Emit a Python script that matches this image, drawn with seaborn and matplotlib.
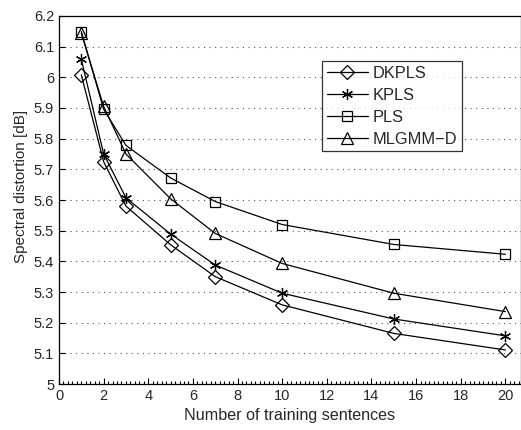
import numpy as np
import pandas as pd
import matplotlib
matplotlib.use("Agg")
from matplotlib import pyplot as plt
from matplotlib.ticker import MultipleLocator
import seaborn as sb

"""DATA"""

sentences = [1, 2, 3, 5, 7, 10, 15, 20]
dkpls = [6.008, 5.725, 5.58, 5.454, 5.35, 5.258, 5.165, 5.111]
kpls = [6.059, 5.75, 5.607, 5.489, 5.388, 5.296, 5.212, 5.157]
pls = [6.149, 5.896, 5.778, 5.672, 5.595, 5.52, 5.455, 5.423]
mlgmm = [6.144, 5.905, 5.75, 5.604, 5.491, 5.393, 5.296, 5.236]

names = ["DKPLS", "KPLS", "PLS", "MLGMM\u2212D"]
series = [dkpls, kpls, pls, mlgmm]
markers = ["D", (6, 2, 0), "s", "^"]
msizes = [7, 8, 6.5, 8]

"""PLOT"""

sb.set_style("ticks")
plt.rcParams["font.family"] = ["Liberation Sans", "DejaVu Sans"]
plt.rcParams["font.size"] = 10

fig = plt.figure(figsize=(5.21, 4.30), dpi=100)
ax = fig.add_axes([59 / 521, 46 / 430, 1 - 59 / 521, 368 / 430])

for name, vals, mk, ms in zip(names, series, markers, msizes):
    df = pd.DataFrame({"x": sentences, "y": vals})
    sb.lineplot(x="x", y="y", data=df, ax=ax, color="k", lw=0.9,
                marker=mk, markersize=ms, markerfacecolor="none",
                markeredgecolor="k", markeredgewidth=0.9, label=name)

ax.set_xlim(0, 20.7)
ax.set_ylim(5, 6.2)
ax.set_xticks([0, 2, 4, 6, 8, 10, 12, 14, 16, 18, 20])
ax.set_yticks(np.round(np.arange(5, 6.21, 0.1), 1))
ax.set_yticklabels(["5", "5.1", "5.2", "5.3", "5.4", "5.5", "5.6", "5.7",
                    "5.8", "5.9", "6", "6.1", "6.2"])
ax.xaxis.set_minor_locator(MultipleLocator(0.2))
ax.tick_params(which="both", direction="in", top=False, right=False,
               labelsize=10.5, width=0.8, color="k")
ax.tick_params(which="major", length=4)
ax.tick_params(which="minor", length=2)
ax.yaxis.grid(True, linestyle=(0, (1, 4)), color="#555555", lw=0.8)
for s in ax.spines.values():
    s.set_color("k")
    s.set_linewidth(0.9)

ax.set_xlabel("Number of training sentences", fontsize=11.6)
ax.set_ylabel("Spectral distortion [dB]", fontsize=11)
ax.yaxis.set_label_coords(-0.067, 0.538)

leg = ax.legend(loc="upper left", bbox_to_anchor=(322 / 521, 1 - 61 / 430),
                bbox_transform=fig.transFigure, frameon=True, fancybox=False,
                edgecolor="k", fontsize=11.8, handlelength=2.5,
                borderpad=0.3, labelspacing=0.42, handletextpad=0.3,
                borderaxespad=0)
leg.get_frame().set_linewidth(0.9)

plt.savefig("out.png", dpi=100)
plt.close()
